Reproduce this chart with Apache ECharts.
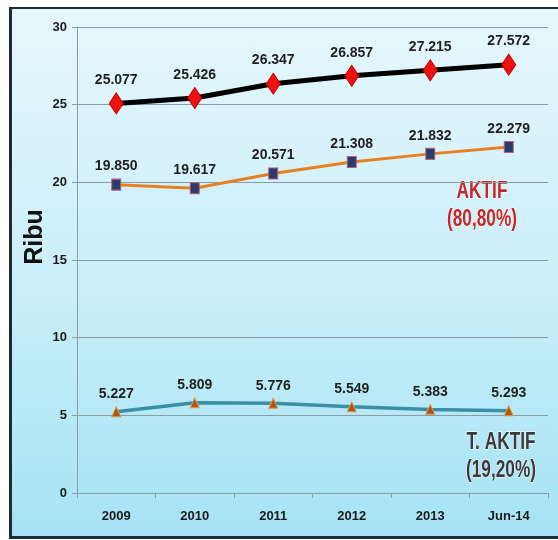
<!DOCTYPE html>
<html>
<head>
<meta charset="utf-8">
<script src="https://cdn.jsdelivr.net/npm/echarts@6/dist/echarts.min.js"></script>
<style>
  html, body { margin: 0; padding: 0; background: #ffffff; }
  #frame {
    position: absolute; left: 9px; top: 7px; width: 560px; height: 527px;
    border-top: 2px solid #1e2b36; border-left: 3px solid #1e2b36; border-bottom: 3px solid #1e2b36;
    background: linear-gradient(to bottom, #e6f7fc 0%, #cbeffa 50%, #a6e3f4 100%);
  }
  #chart { position: absolute; left: 0; top: 0; width: 558px; height: 540px; }
</style>
</head>
<body>
<div id="frame"></div>
<div id="chart"></div>
<script>
// values in thousands (Ribu)
const categories = ["2009", "2010", "2011", "2012", "2013", "Jun-14"];
const totalValues = [25.077, 25.426, 26.347, 26.857, 27.215, 27.572];
const aktifValues = [19.850, 19.617, 20.571, 21.308, 21.832, 22.279];
const tidakAktifValues = [5.227, 5.809, 5.776, 5.549, 5.383, 5.293];
const yTicks = { min: 0, max: 30, interval: 5 };

const baseFont = '"Liberation Sans", Arial, sans-serif';

function valueLabel() {
  return {
    show: true,
    position: "top",
    distance: 5,
    fontFamily: baseFont,
    fontWeight: "bold",
    fontSize: 14,
    color: "#1f1f1f",
    formatter: (p) => p.value.toFixed(3),
  };
}

function note(text, x, y, fill) {
  return {
    type: "text",
    x: x, y: y, scaleX: 0.72,
    style: {
      text: text,
      font: 'bold 24px ' + baseFont,
      fill: fill,
      align: "center",
      verticalAlign: "middle",
      stroke: "#ffffff",
      lineWidth: 1,
      shadowColor: "rgba(0,0,0,0.45)",
      shadowBlur: 3,
      shadowOffsetX: 1,
      shadowOffsetY: 1,
    },
  };
}

const chart = echarts.init(document.getElementById("chart"));

chart.setOption({
  backgroundColor: "transparent",
  animation: false,
  grid: { left: 77, right: 10, top: 27, bottom: 47 },
  xAxis: {
    type: "category",
    data: categories,
    boundaryGap: true,
    axisLine: { show: true, lineStyle: { color: "#8a9ca6", width: 1 } },
    axisTick: { show: true, length: 5, lineStyle: { color: "#8a9ca6" } },
    axisLabel: {
      margin: 17,
      fontFamily: baseFont,
      fontWeight: "bold",
      fontSize: 13,
      color: "#1a1a1a",
    },
  },
  yAxis: {
    type: "value",
    min: yTicks.min,
    max: yTicks.max,
    interval: yTicks.interval,
    axisLine: { show: true, lineStyle: { color: "#8a9ca6", width: 1 } },
    axisTick: { show: true, length: 5, lineStyle: { color: "#8a9ca6" } },
    splitLine: { show: true, lineStyle: { color: "#8a9ca6", width: 1 } },
    axisLabel: {
      margin: 10,
      fontFamily: baseFont,
      fontWeight: "bold",
      fontSize: 13,
      color: "#1a1a1a",
    },
  },
  graphic: [
    {
      type: "text",
      x: 35, y: 237, rotation: Math.PI / 2,
      style: {
        text: "Ribu",
        font: 'bold 25px ' + baseFont,
        fill: "#111",
        align: "center",
        verticalAlign: "middle",
      },
    },
    note("AKTIF", 482, 191, "#c62828"),
    note("(80,80%)", 482, 219, "#c62828"),
    note("T. AKTIF", 501, 442, "#3a3a3a"),
    note("(19,20%)", 501, 470, "#3a3a3a"),
  ],
  series: [
    {
      name: "Total",
      type: "line",
      data: totalValues,
      symbol: "diamond",
      symbolSize: [14, 21],
      lineStyle: { color: "#000000", width: 5 },
      itemStyle: { color: "#ee1111", borderColor: "#c80000", borderWidth: 1 },
      label: valueLabel(),
      z: 3,
    },
    {
      name: "Aktif",
      type: "line",
      data: aktifValues,
      symbol: "rect",
      symbolSize: [9, 11],
      lineStyle: { color: "#e8801f", width: 3 },
      itemStyle: { color: "#2c3a6e", borderColor: "#b0607a", borderWidth: 1 },
      label: valueLabel(),
      z: 3,
    },
    {
      name: "Tidak Aktif",
      type: "line",
      data: tidakAktifValues,
      symbol: "triangle",
      symbolSize: [9, 10],
      lineStyle: { color: "#3a8ea6", width: 3.5 },
      itemStyle: { color: "#b4521c", borderColor: "#d9a040", borderWidth: 1 },
      label: valueLabel(),
      z: 3,
    },
  ],
});
</script>
</body>
</html>
